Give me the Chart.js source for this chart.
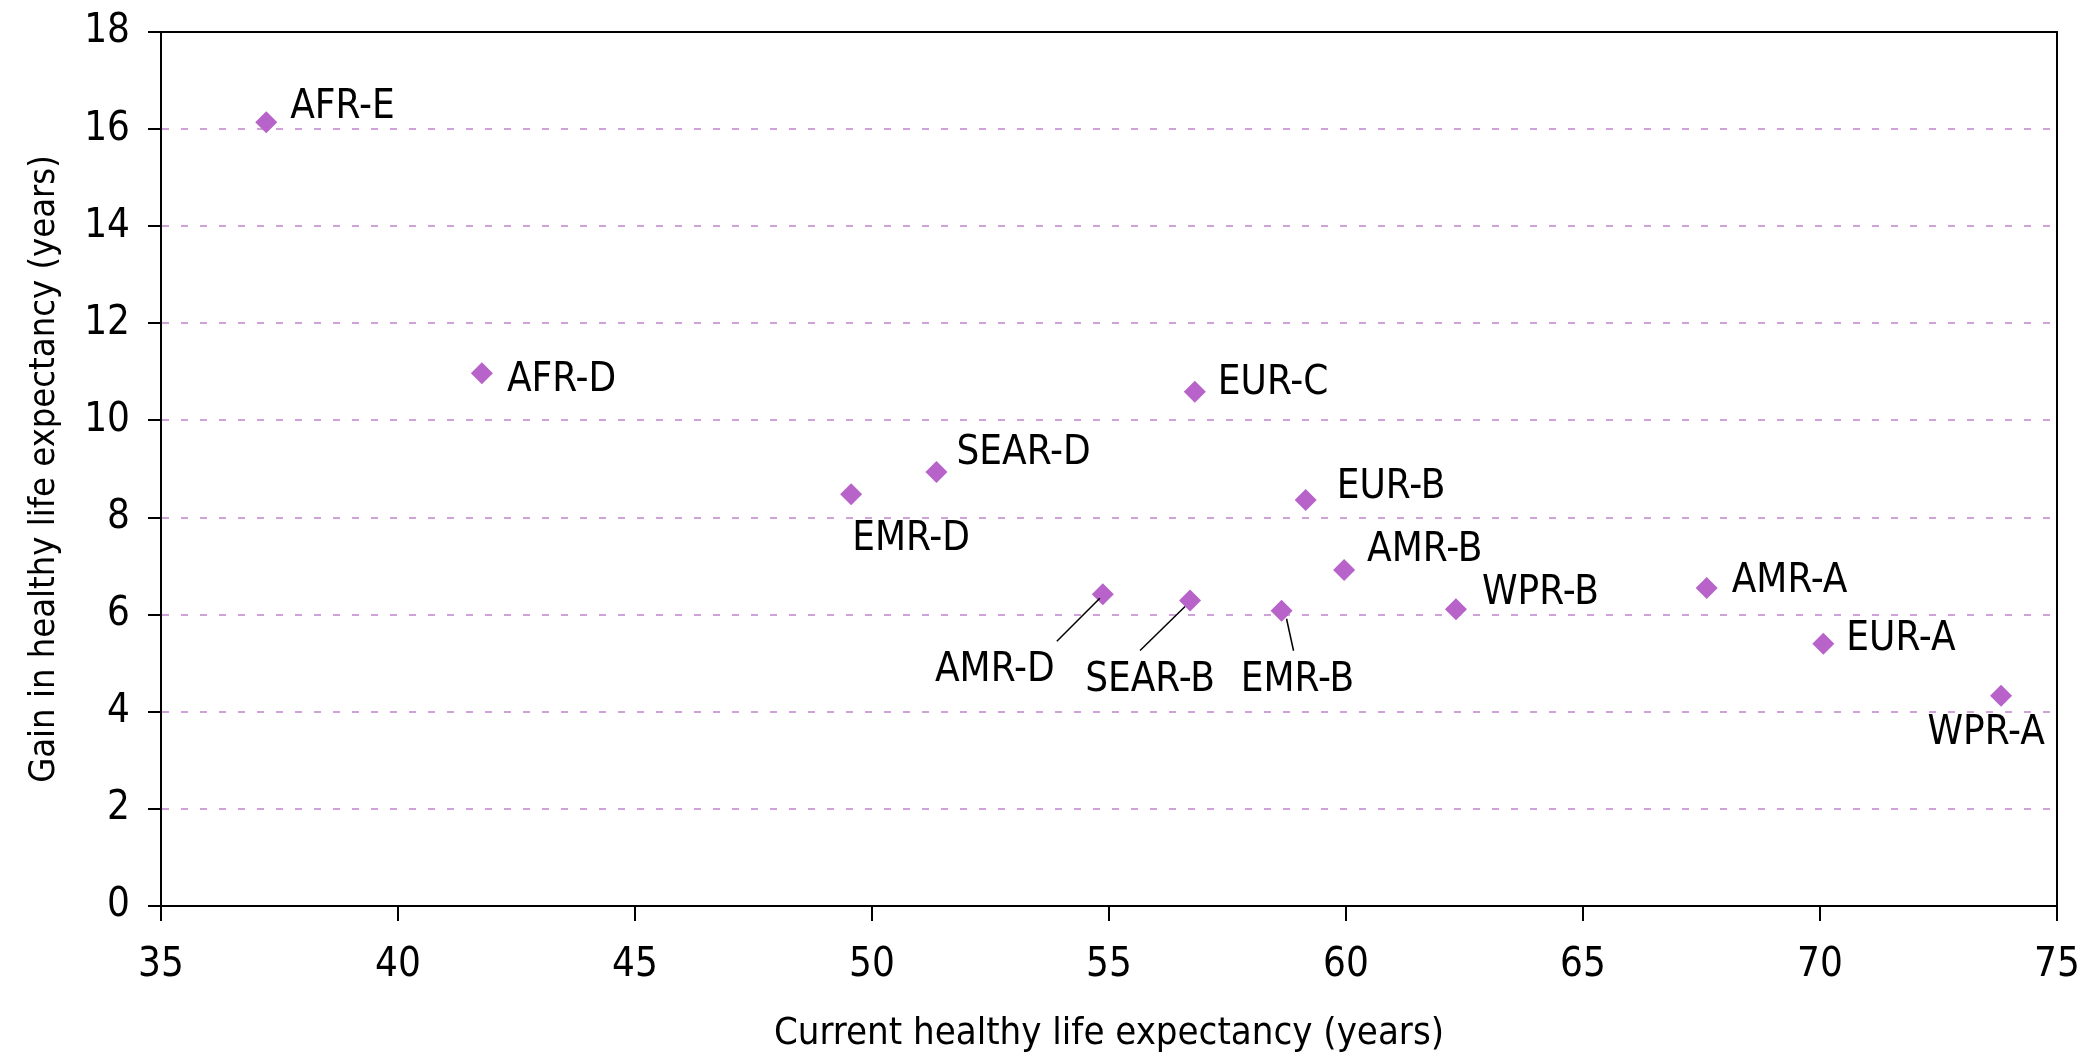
<!DOCTYPE html>
<html>
<head>
<meta charset="utf-8">
<style>
  body { margin: 0; background: #fff; }
  canvas { display: block; }
</style>
</head>
<body>
<canvas id="hale" width="2086" height="1056"></canvas>
<script src="https://cdn.jsdelivr.net/npm/chart.js"></script>
<script>
// WHO sub-regions
const regions = ['AFR-E', 'AFR-D', 'EMR-D', 'SEAR-D', 'EUR-C', 'EUR-B', 'AMR-B',
                 'AMR-D', 'SEAR-B', 'EMR-B', 'WPR-B', 'AMR-A', 'EUR-A', 'WPR-A'];
// current healthy life expectancy (years)
const currentHale = [37.22, 41.77, 49.56, 51.36, 56.81, 59.15, 59.96,
                     54.87, 56.71, 58.64, 62.32, 67.61, 70.07, 73.82];
// gain in healthy life expectancy (years)
const gainHale = [16.14, 10.97, 8.48, 8.94, 10.59, 8.36, 6.92,
                  6.42, 6.29, 6.08, 6.11, 6.55, 5.40, 4.33];
// axis ticks
const xTicks = [35, 40, 45, 50, 55, 60, 65, 70, 75];
const yTicks = [0, 2, 4, 6, 8, 10, 12, 14, 16, 18];

const FONT = "'Liberation Sans Narrow', 'DejaVu Sans Condensed', sans-serif";

// where each label sits relative to its marker (pixels), plus leader lines
const labelPlace = {
  'AFR-E':  {dx: 24, dy: -15, align: 'left'},
  'AFR-D':  {dx: 25, dy: 7, align: 'left'},
  'EMR-D':  {dx: 1, dy: 45, align: 'left'},
  'SEAR-D': {dx: 20, dy: -18, align: 'left'},
  'EUR-C':  {dx: 23, dy: -8, align: 'left'},
  'EUR-B':  {dx: 31, dy: -12, align: 'left'},
  'AMR-B':  {dx: 23, dy: -19, align: 'left'},
  'AMR-D':  {dx: -108, dy: 76, align: 'center', line: [-3, 4, -46, 47]},
  'SEAR-B': {dx: -40, dy: 80, align: 'center', line: [-5, 6, -50, 50]},
  'EMR-B':  {dx: 16, dy: 70, align: 'center', line: [5, 8, 12, 40]},
  'WPR-B':  {dx: 26, dy: -16, align: 'left'},
  'AMR-A':  {dx: 25, dy: -6, align: 'left'},
  'EUR-A':  {dx: 23, dy: -4, align: 'left'},
  'WPR-A':  {dx: -15, dy: 38, align: 'center'}
};

const pointLabels = {
  id: 'pointLabels',
  afterDatasetsDraw(chart) {
    const ctx = chart.ctx;
    const meta = chart.getDatasetMeta(0);
    ctx.save();
    ctx.font = '40px ' + FONT;
    ctx.fillStyle = '#000';
    ctx.strokeStyle = '#000';
    ctx.lineWidth = 1.5;
    ctx.textBaseline = 'middle';
    meta.data.forEach((pt, i) => {
      const p = labelPlace[regions[i]];
      if (p.line) {
        ctx.beginPath();
        ctx.moveTo(pt.x + p.line[0], pt.y + p.line[1]);
        ctx.lineTo(pt.x + p.line[2], pt.y + p.line[3]);
        ctx.stroke();
      }
      ctx.textAlign = p.align;
      ctx.fillText(regions[i], pt.x + p.dx, pt.y + p.dy);
    });
    ctx.restore();
  }
};

// black box round the plot (top and right sides)
const frame = {
  id: 'frame',
  beforeDatasetsDraw(chart) {
    const {ctx, chartArea: a} = chart;
    ctx.save();
    ctx.strokeStyle = '#000';
    ctx.lineWidth = 2;
    ctx.beginPath();
    ctx.moveTo(a.left, a.top);
    ctx.lineTo(a.right, a.top);
    ctx.lineTo(a.right, a.bottom);
    ctx.stroke();
    ctx.restore();
  }
};

const ctx = document.getElementById('hale').getContext('2d');
new Chart(ctx, {
  type: 'scatter',
  data: {
    datasets: [{
      data: currentHale.map((x, i) => ({x: x, y: gainHale[i]})),
      pointStyle: 'rectRot',
      pointRadius: 11,
      backgroundColor: '#b763c9',
      borderColor: '#b763c9',
      borderWidth: 0
    }]
  },
  options: {
    responsive: false,
    animation: false,
    devicePixelRatio: 1,
    layout: { padding: { top: 31, right: 29, left: 0, bottom: 0 } },
    plugins: { legend: { display: false }, tooltip: { enabled: false } },
    scales: {
      x: {
        type: 'linear',
        min: 35, max: 75,
        afterBuildTicks: s => { s.ticks = xTicks.map(v => ({value: v})); },
        afterFit: s => { s.height = 150; },
        grid: { drawOnChartArea: false, tickLength: 15, tickColor: '#000', tickWidth: 2, lineWidth: 2 },
        border: { color: '#000', width: 2 },
        // small padding keeps the right edge in place; lineHeight pushes labels down
        ticks: { color: '#000', padding: 2, font: { family: FONT, size: 40, lineHeight: 2.15 }, maxRotation: 0 },
        title: {
          display: true,
          text: 'Current healthy life expectancy (years)',
          color: '#000',
          font: { family: FONT, size: 38, lineHeight: 1.15 },
          padding: { top: 0, bottom: 0 }
        }
      },
      y: {
        type: 'linear',
        min: 0, max: 18,
        afterBuildTicks: s => { s.ticks = yTicks.map(v => ({value: v})); },
        afterFit: s => { s.width = 161; },
        grid: { color: '#cfa3da', lineWidth: 2, tickLength: 13, tickColor: '#000', tickWidth: 2 },
        border: { color: '#000', width: 2, dash: [7, 12] },
        ticks: { color: '#000', padding: 18, font: { family: FONT, size: 40, lineHeight: 0.7 } },
        title: {
          display: true,
          text: 'Gain in healthy life expectancy (years)',
          color: '#000',
          font: { family: FONT, size: 36, lineHeight: 1.15 },
          padding: { top: 24, bottom: 0 }
        }
      }
    }
  },
  plugins: [frame, pointLabels]
});
</script>
</body>
</html>
